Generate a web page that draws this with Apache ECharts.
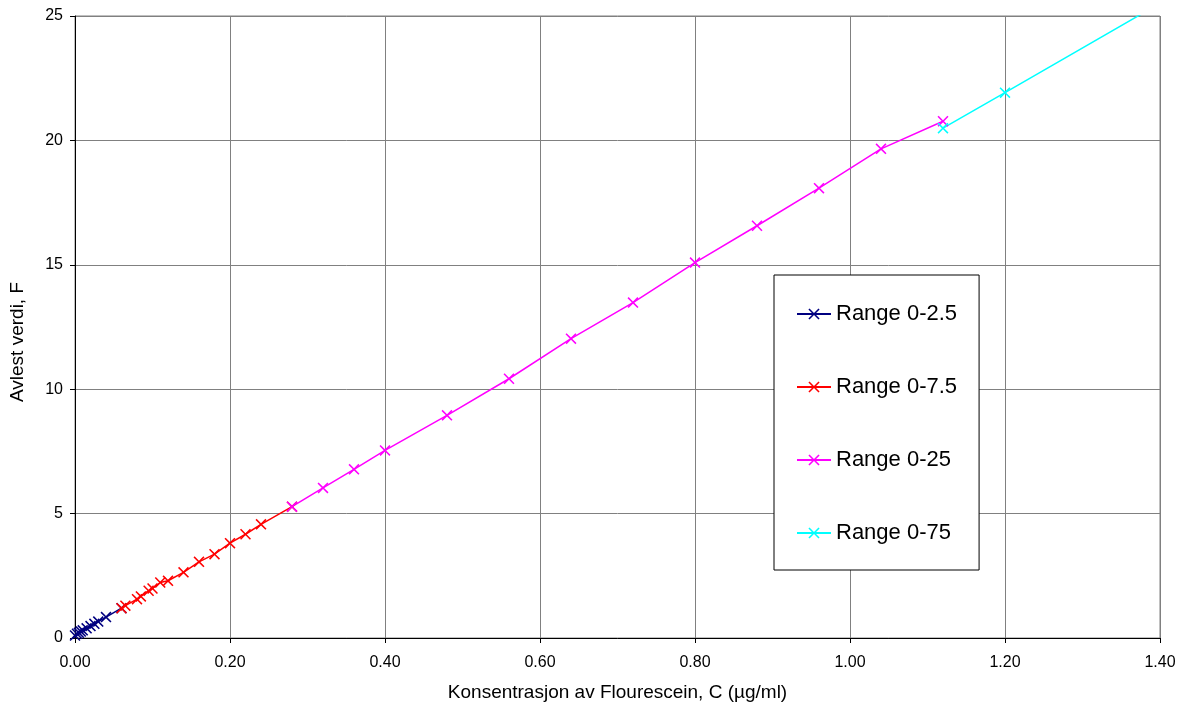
<!DOCTYPE html>
<html>
<head>
<meta charset="utf-8">
<script src="https://cdn.jsdelivr.net/npm/echarts@6/dist/echarts.min.js"></script>
<style>
html,body{margin:0;padding:0;background:#fff;}
#chart{width:1182px;height:707px;}
</style>
</head>
<body>
<div id="chart"></div>
<script>
const seriesNames = ['Range 0-2.5', 'Range 0-7.5', 'Range 0-25', 'Range 0-75'];
const seriesColors = ['#000080', '#FF0000', '#FF00FF', '#00FFFF'];

const blueX = [0, 0.0025, 0.005, 0.0075, 0.01, 0.015, 0.02, 0.025, 0.03, 0.04, 0.06];
const blueY = [0.1, 0.17, 0.21, 0.26, 0.31, 0.39, 0.48, 0.57, 0.66, 0.84, 1.2];

const redX = [0.06, 0.065, 0.08, 0.085, 0.095, 0.10, 0.11, 0.12, 0.14, 0.16, 0.18, 0.20, 0.22, 0.24, 0.28];
const redY = [1.2, 1.3, 1.56, 1.67, 1.9, 1.99, 2.23, 2.3, 2.64, 3.06, 3.37, 3.81, 4.17, 4.57, 5.28];

const magentaX = [0.28, 0.32, 0.36, 0.40, 0.48, 0.56, 0.64, 0.72, 0.80, 0.88, 0.96, 1.04, 1.12];
const magentaY = [5.28, 6.03, 6.78, 7.54, 8.95, 10.42, 12.03, 13.48, 15.09, 16.57, 18.08, 19.66, 20.77];

const cyanX = [1.12, 1.20, 1.60];
const cyanY = [20.49, 21.92, 29.1];

const xTicks = [0, 0.2, 0.4, 0.6, 0.8, 1.0, 1.2, 1.4];
const yTicks = [0, 5, 10, 15, 20, 25];

const xsAll = [blueX, redX, magentaX, cyanX];
const ysAll = [blueY, redY, magentaY, cyanY];

const crossPath = 'path://M0,1 L1,0 L5,4 L9,0 L10,1 L6,5 L10,9 L9,10 L5,6 L1,10 L0,9 L4,5 Z';

const series = seriesNames.map((name, i) => ({
  name: name,
  type: 'line',
  data: xsAll[i].map((x, j) => [x, ysAll[i][j]]),
  symbol: crossPath,
  symbolSize: 11,
  showAllSymbol: true,
  clip: true,
  lineStyle: { color: seriesColors[i], width: 1.5 },
  itemStyle: { color: seriesColors[i] },
  emphasis: { disabled: true },
  animation: false
}));

const chart = echarts.init(document.getElementById('chart'), null, { renderer: 'canvas' });
chart.setOption({
  animation: false,
  backgroundColor: '#ffffff',
  textStyle: { fontFamily: 'Liberation Sans, Arial, sans-serif' },
  grid: {
    left: 74, top: 16, right: 22, bottom: 68,
    show: true, borderColor: '#808080', borderWidth: 1
  },
  legend: {
    orient: 'vertical',
    left: 774, top: 275,
    data: seriesNames,
    itemWidth: 34, itemHeight: 14,
    itemGap: 51,
    padding: [28, 22, 26, 22],
    borderColor: '#000000', borderWidth: 1,
    backgroundColor: '#ffffff',
    textStyle: { fontSize: 22, color: '#000', fontFamily: 'Liberation Sans, Arial, sans-serif' },
    selectedMode: false
  },
  xAxis: {
    type: 'value',
    min: xTicks[0], max: xTicks[xTicks.length - 1], interval: 0.2,
    name: 'Konsentrasjon av Flourescein, C (µg/ml)',
    nameLocation: 'middle', nameGap: 45,
    nameTextStyle: { fontSize: 19, color: '#000' },
    axisLine: { show: true, lineStyle: { color: '#000', width: 1 } },
    axisTick: { show: true, length: 5, lineStyle: { color: '#000' } },
    axisLabel: { fontSize: 16, color: '#000', margin: 17, formatter: v => v.toFixed(2) },
    splitLine: { show: true, lineStyle: { color: '#808080', width: 1 } }
  },
  yAxis: {
    type: 'value',
    min: yTicks[0], max: yTicks[yTicks.length - 1], interval: 5,
    name: 'Avlest verdi, F',
    nameLocation: 'middle', nameGap: 48,
    nameTextStyle: { fontSize: 19, color: '#000', padding: [0, 30, 0, 0] },
    axisLine: { show: true, lineStyle: { color: '#000', width: 1 } },
    axisTick: { show: true, length: 5, lineStyle: { color: '#000' } },
    axisLabel: { fontSize: 16, color: '#000', margin: 12 },
    splitLine: { show: true, lineStyle: { color: '#808080', width: 1 } }
  },
  series: series
});
</script>
</body>
</html>
